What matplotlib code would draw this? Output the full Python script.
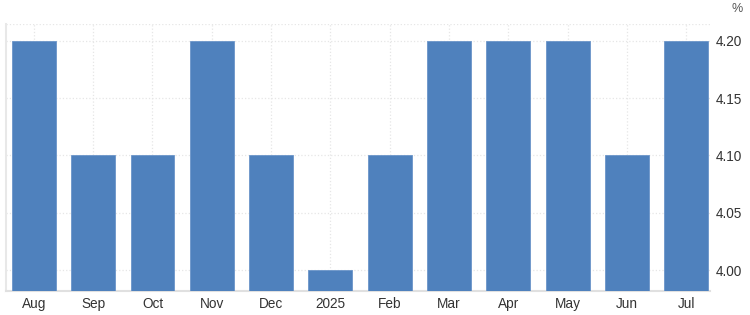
import matplotlib.pyplot as plt
import numpy as np

months = ['Aug', 'Sep', 'Oct', 'Nov', 'Dec', '2025', 'Feb', 'Mar', 'Apr', 'May', 'Jun', 'Jul']
values = [4.2, 4.1, 4.1, 4.2, 4.1, 4.0, 4.1, 4.2, 4.2, 4.2, 4.1, 4.2]
yticks = [4.00, 4.05, 4.10, 4.15, 4.20]

plt.rcParams['font.family'] = ['Liberation Sans', 'DejaVu Sans']

fig = plt.figure(figsize=(7.5, 3.15), dpi=100)
ax = fig.add_axes([0.008, 0.0762, 0.9387, 0.8476])

x = np.arange(len(months))
ax.bar(x, values, width=0.74, bottom=0, color='#4f81bd', edgecolor='#6b95c9',
       linewidth=0.6, zorder=3)

ax.set_xlim(-0.47, 11.4)
ax.set_ylim(3.9817, 4.2148)

ax.set_xticks(x)
ax.set_xticklabels(months)
ax.set_yticks(yticks)
ax.set_yticklabels([f'{v:.2f}' for v in yticks])
ax.yaxis.tick_right()
ax.tick_params(axis='both', length=0, labelsize=9.8, colors='#333333')
ax.tick_params(axis='x', pad=4)
ax.tick_params(axis='y', pad=4)

ax.grid(True, color='#e6e6e6', linestyle=':', linewidth=0.9, zorder=0)
ax.axhline(4.2148, color='#e6e6e6', linestyle=':', linewidth=0.9, zorder=0)

for side in ['top', 'right']:
    ax.spines[side].set_visible(False)
ax.spines['left'].set_color('#e8e8e8')
ax.spines['bottom'].set_color('#e0e0e0')
ax.spines['left'].set_linewidth(1.5)
ax.spines['bottom'].set_linewidth(1.5)

fig.text(0.983, 0.99, '%', ha='center', va='top', fontsize=9, color='#555555')

plt.savefig('out.png', dpi=100)
